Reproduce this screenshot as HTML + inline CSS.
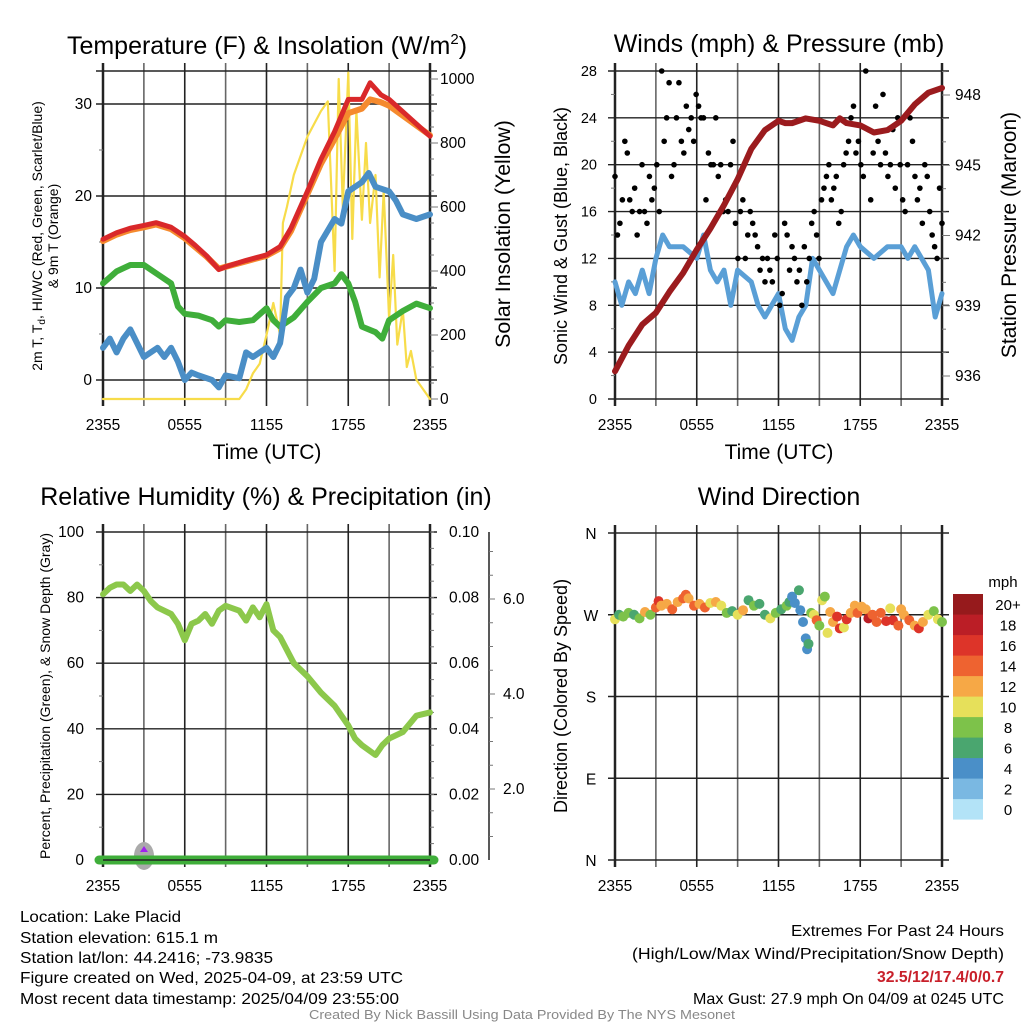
<!DOCTYPE html>
<html><head><meta charset="utf-8"><style>
html,body{margin:0;padding:0;background:#fff;}
svg{display:block;font-family:"Liberation Sans",sans-serif;}
.n{font-family:"Liberation Sans Narrow","Liberation Sans",sans-serif;}
</style></head><body>
<svg id="s" width="1024" height="1024" viewBox="0 0 1024 1024" xmlns="http://www.w3.org/2000/svg">
<g id="g"></g>
<text x="267" y="54" font-size="25" text-anchor="middle">Temperature (F) &amp; Insolation (W/m<tspan dy="-10" font-size="15">2</tspan><tspan dy="10">)</tspan></text>
<text x="779" y="52" font-size="25" text-anchor="middle">Winds (mph) &amp; Pressure (mb)</text>
<text x="266" y="505" font-size="25" text-anchor="middle">Relative Humidity (%) &amp; Precipitation (in)</text>
<text x="779" y="505" font-size="25" text-anchor="middle">Wind Direction</text>
<text x="267" y="459" font-size="21" text-anchor="middle">Time (UTC)</text>
<text x="779" y="459" font-size="21" text-anchor="middle">Time (UTC)</text>
<text transform="translate(42,236) rotate(-90)" font-size="14" text-anchor="middle">2m T, T<tspan dy="3" font-size="10">d</tspan><tspan dy="-3">, HI/WC (Red, Green, Scarlet/Blue)</tspan></text>
<text transform="translate(58,236) rotate(-90)" font-size="14" text-anchor="middle">&amp; 9m T (Orange)</text>
<text transform="translate(510,234) rotate(-90)" font-size="21.3" text-anchor="middle">Solar Insolation (Yellow)</text>
<text transform="translate(567,236) rotate(-90)" font-size="18" text-anchor="middle">Sonic Wind &amp; Gust (Blue, Black)</text>
<text transform="translate(1016,235) rotate(-90)" font-size="21" text-anchor="middle">Station Pressure (Maroon)</text>
<text transform="translate(50,696) rotate(-90)" font-size="14" text-anchor="middle">Percent, Precipitation (Green), &amp; Snow Depth (Gray)</text>
<text transform="translate(567,696) rotate(-90)" font-size="18" text-anchor="middle">Direction (Colored By Speed)</text>
<g class="n" font-size="16">
<text x="20" y="922" textLength="161" lengthAdjust="spacingAndGlyphs">Location: Lake Placid</text>
<text x="20" y="943" textLength="198" lengthAdjust="spacingAndGlyphs">Station elevation: 615.1 m</text>
<text x="20" y="963" textLength="253" lengthAdjust="spacingAndGlyphs">Station lat/lon: 44.2416; -73.9835</text>
<text x="20" y="983" textLength="383" lengthAdjust="spacingAndGlyphs">Figure created on Wed, 2025-04-09, at 23:59 UTC</text>
<text x="20" y="1004" textLength="379" lengthAdjust="spacingAndGlyphs">Most recent data timestamp: 2025/04/09 23:55:00</text>
</g>
<g class="n" font-size="16">
<text x="791" y="936" textLength="213" lengthAdjust="spacingAndGlyphs">Extremes For Past 24 Hours</text>
<text x="632" y="959" textLength="372" lengthAdjust="spacingAndGlyphs">(High/Low/Max Wind/Precipitation/Snow Depth)</text>
<text x="877" y="982" fill="#c8202a" font-weight="bold" textLength="127" lengthAdjust="spacingAndGlyphs">32.5/12/17.4/0/0.7</text>
<text x="693" y="1004" textLength="311" lengthAdjust="spacingAndGlyphs">Max Gust: 27.9 mph On 04/09 at 0245 UTC</text>
</g>
<text class="n" x="309" y="1019" font-size="12.5" fill="#888" textLength="426" lengthAdjust="spacingAndGlyphs">Created By Nick Bassill Using Data Provided By The NYS Mesonet</text>
</svg>
<script>
// ---- data (hours since 2355 UTC) ----
const xTickLabels = ["2355","0555","1155","1755","2355"];
const tHours = [0,1,2,3,3.9,5,6,6.8,7.6,8.5,9,10.5,12,13,13.8,15,16,17,18,19,19.6,20.4,21,22.5,24];
const tempRed = [15.3,16,16.5,16.8,17.1,16.6,15.6,14.6,13.5,12,12.3,13,13.6,14.5,16.5,20.5,24,27,30.5,30.5,32.3,31,30.5,28.5,26.5];
const temp9m = [15.1,15.8,16.3,16.6,16.9,16.4,15.4,14.4,13.4,12.1,12.3,12.9,13.5,14.3,16.2,20.2,23.5,26.2,29,29.5,30.5,30.2,29.8,28.2,26.6];
const dHours = [0,1,2,3,4,5,5.5,6,7,8,8.5,9,10,11,12,12.5,13,14,15,16,17,17.5,18,18.5,19,20,20.5,21,22,23,24];
const dewGreen = [10.5,11.8,12.5,12.5,11.5,10.5,8,7.2,7,6.5,5.8,6.5,6.3,6.5,7.8,6.5,5.8,6.8,8.5,10,10.5,11.5,10.5,8.5,5.8,5.2,4.5,6.5,7.5,8.3,7.8];
const wcHours = [0,0.5,1,1.5,2,2.5,3,4,4.5,5,5.5,6,6.5,7,8,8.5,9,10,10.5,11,12,12.5,13,13.5,14,14.5,15,15.5,16,17,17.5,18,19,19.5,20,21,21.5,22,23,24];
const windChill = [3.5,4.5,3,4.5,5.5,4,2.5,3.5,2.5,3.5,2,0,0.8,0.5,0,-0.8,0.5,0.2,3,2.5,3.5,2.5,4,9,10,12,9.5,11,15,17.5,17,20.5,21.5,22.5,21,20.5,19.5,18,17.5,18];
const solHours = [0,10,10.5,11,11.5,12,12.5,13,13.2,13.5,14,15,16,16.5,17,17.3,17.6,18,18.3,18.6,19,19.3,19.6,20,20.3,20.6,21,21.3,21.6,22,22.3,22.6,23,24];
const solar = [0,0,30,80,110,200,300,200,550,600,700,820,900,930,400,1000,600,1020,500,900,560,800,550,700,380,650,250,450,170,280,100,150,60,0];
const wHours = [0,0.5,1,1.5,2,2.5,3,3.5,4,5,6,6.5,7,7.5,8,8.5,9,10,10.5,11,11.5,12,12.5,13,13.5,14,14.5,15,15.5,16,17,17.5,18,19,20,21,21.5,22,23,23.5,24];
const sonicWind = [10,8,10,9,11,9,12,14,13,13,12,14,11,10,11,8,11,10,8,7,8,9,6,5,7,8,12,11,10,9,13,14,13,12,13,13,12,13,11,7,9];
const gusts = [19,14,15,17,22,21,17,16,18,14,16,20,16,15,19,17,18,20,16,28,22,24,27,19,20,24,27,22,21,25,23,24,22,26,25,24,24,17,21,20,20,24,19,20,16,17,16,20,22,15,12,16,17,12,14,16,15,14,13,11,12,10,12,11,10,14,12,8,9,15,14,11,13,12,10,11,8,13,10,12,15,16,14,12,17,18,19,20,17,18,19,15,16,20,21,22,24,25,21,22,20,19,28,23,17,21,25,22,20,26,21,19,20,23,18,24,20,17,16,20,24,22,19,17,18,15,20,19,16,14,13,12,18,15];
const pHours = [0,1,2,3,4,5,6,7,8,9,10,11,12,12.5,13,14,15,16,16.5,17,18,19,20,21,22,23,24];
const pressure = [936.2,937.3,938.2,938.7,939.6,940.4,941.4,942.3,943.3,944.4,945.7,946.5,946.9,946.8,946.8,947.0,946.9,946.7,947.0,946.8,946.7,946.4,946.5,946.9,947.6,948.1,948.3];
const rhHours = [0,0.5,1,1.5,2,2.5,3,3.5,4,5,5.5,6,6.5,7,7.5,8,8.5,9,10,10.5,11,11.5,12,12.5,13,14,15,16,17,18,18.5,19,20,20.5,21,22,23,24];
const rh = [81,83,84,84,82,84,82,79,77,75,72,67,72,73,75,72,76,77.5,76,73,77,74,78,70,68,60,56,51,47,41,37,35,32,35,37,39,44,45];
const dirHours = [0,0.3,0.6,1,1.4,1.8,2.2,2.6,3,3.2,3.4,3.8,4.2,4.6,5,5.2,5.4,5.8,6.2,6.6,7,7.4,7.8,8.2,8.6,9,9.4,9.8,10.2,10.6,11,11.4,11.8,12.2,12.6,12.8,13,13.2,13.5,13.6,13.8,14,14.1,14.2,14.4,14.6,14.8,15,15.2,15.4,15.6,15.8,16,16.3,16.5,16.8,17,17.3,17.6,17.8,18.1,18.4,18.6,18.9,19.2,19.5,19.9,20.2,20.4,20.8,21,21.2,21.6,22,22.3,22.6,23,23.4,23.7,24];
const dirDeg = [265,270,268,272,270,266,273,270,278,285,280,282,276,284,288,292,288,280,282,278,283,284,280,272,274,270,275,286,280,282,270,266,272,276,280,284,290,283,297,275,262,244,232,238,272,270,264,258,286,290,250,273,262,268,255,256,265,272,280,272,279,276,266,270,262,272,263,277,264,258,276,270,264,258,255,262,270,274,265,262];
const dirSpeed = [10,7,9,8,7,8,12,9,15,16,13,12,14,12,14,15,12,14,12,14,10,12,10,8,7,10,12,7,8,6,7,10,8,7,8,7,4,5,6,4,4,4,4,6,8,10,14,8,10,8,10,12,13,17,16,10,17,12,13,15,12,12,18,14,14,15,16,10,17,14,12,13,15,12,16,13,10,8,10,9];
const speedLabels = ["0","2","4","6","8","10","12","14","16","18","20+"];
const speedColors = ["#b3e3f7","#7ab8e2","#4a8fc8","#4aa66f","#7dc24a","#e6e05a","#f6a846","#ee6330","#dd3429","#bb1e26","#961a1c"];

const NS="http://www.w3.org/2000/svg";
const G=document.getElementById('g');
function el(tag,attrs,parent){const e=document.createElementNS(NS,tag);for(const k in attrs)e.setAttribute(k,attrs[k]);(parent||G).appendChild(e);return e;}
function txt(x,y,s,size,anchor){const t=el('text',{x:x,y:y,'font-size':size,'text-anchor':anchor||'middle'});t.textContent=s;return t;}
const X0L=103,X0R=615,PW=327;
const xs=(x0)=>h=>x0+h*PW/24;
function lin(d0,d1,p0,p1){return v=>p0+(v-d0)*(p1-p0)/(d1-d0);}
function line(hs,vs,sx,sy,color,w,name){
  const d=hs.map((h,i)=>(i?'L':'M')+sx(h).toFixed(1)+','+sy(vs[i]).toFixed(1)).join('');
  const p=el('path',{d:d,fill:'none',stroke:color,'stroke-width':w,'stroke-linejoin':'round','stroke-linecap':'round'});
  
  
  return p;
}
function vgrid(x0,top,bot,labels){
  for(let i=0;i<=8;i++){const x=x0+i*PW/8;
    const l=el('line',{x1:x,y1:top-8,x2:x,y2:bot+7,stroke:(i%2?'#666':'#222'),'stroke-width':(i==0||i==8)?2.5:1.6});
    
    
  }
  labels.forEach((s,i)=>{const t=txt(x0+i*PW/4,bot+31,s,15.5);
    
    });
}
function hline(x0,y,w,name){const l=el('line',{x1:x0-7,y1:y,x2:x0+PW+7,y2:y,stroke:'#222','stroke-width':1.4});
  
  }
function mtick(x,y,len){el('line',{x1:x,y1:y,x2:x+len,y2:y,stroke:'#777','stroke-width':1});}

// ---------- Panel 1 ----------
(function(){
  const sx=xs(X0L), sy=lin(0,30,380,104), ss=lin(0,1000,399,79), top=71,bot=399;
  vgrid(X0L,top,bot,xTickLabels);
  hline(X0L,top,0,'frame-top');
  [0,10,20,30].forEach(v=>{hline(X0L,sy(v),0,'y-gridline');const t=txt(92,sy(v)+5,String(v),15.5,'end');
    
    });
  [5,15,25].forEach(v=>mtick(X0L-4,sy(v),4));
  for(let v=0;v<=1000;v+=50){mtick(X0L+PW,ss(v),v%200?4:8);}
  [0,200,400,600,800,1000].forEach(v=>{const t=txt(440,ss(v)+5,String(v),15.5,'start');
    
    });
  line(solHours,solar,sx,ss,'#f7dc4a',2.2,'insolation-line');
  line(dHours,dewGreen,sx,sy,'#3fae3a',6,'dewpoint-line');
  line(wcHours,windChill,sx,sy,'#4a8ec6',6,'windchill-line');
  line(tHours,temp9m,sx,sy,'#f58a2e',6,'temp-9m-line');
  line(tHours,tempRed,sx,sy,'#d9282a',5,'temp-2m-line');
})();

// ---------- Panel 2 ----------
(function(){
  const sx=xs(X0R), sy=lin(0,28,399,71), sp=lin(936,948,376,95), top=71,bot=399;
  vgrid(X0R,top,bot,xTickLabels);
  [0,4,8,12,16,20,24,28].forEach(v=>{hline(X0R,sy(v),0,'y-gridline');const t=txt(597,sy(v)+5,String(v),14.5,'end');
    
    });
  [2,6,10,14,18,22,26].forEach(v=>mtick(X0R-4,sy(v),4));
  for(let v=935;v<=949;v+=1){const y=sp(v);if(y>=71&&y<=399)mtick(X0R+PW,y,v%3==0?8:4);}
  [936,939,942,945,948].forEach(v=>{const t=txt(955,sp(v)+5,String(v),15.5,'start');
    
    });
  line(wHours,sonicWind,sx,sy,'#5a9fd6',5,'sonic-wind-line');
  gusts.forEach((g,i)=>{const c=el('circle',{cx:sx(i*24/(gusts.length-1)),cy:sy(g),r:2.8,fill:'#000'});
    
    });
  line(pHours,pressure,sx,sp,'#9b1b1e',6,'pressure-line');
})();

// ---------- Panel 3 ----------
(function(){
  const sx=xs(X0L), sy=lin(0,100,860,532), sr=lin(0,0.1,860,532), top=532,bot=860;
  vgrid(X0L,top,bot,xTickLabels);
  [0,20,40,60,80,100].forEach(v=>{hline(X0L,sy(v),0,'y-gridline');const t=txt(84,sy(v)+5,String(v),15.5,'end');
    
    });
  [10,30,50,70,90].forEach(v=>mtick(X0L-4,sy(v),4));
  for(let v=0;v<=0.1001;v+=0.005){mtick(X0L+PW,sr(v),4);}
  ["0.00","0.02","0.04","0.06","0.08","0.10"].forEach(s=>{const t=txt(449,sr(+s)+5,s,15.5,'start');
    
    });
  el('line',{x1:489,y1:532,x2:489,y2:860,stroke:'#222','stroke-width':1.5});
  const sd=lin(0,6,884,599);
  for(let v=0.5;v<=7;v+=0.5){const y=sd(v);if(y>=532&&y<=860)mtick(489,y,v%2==0?6:4);}
  ["2.0","4.0","6.0"].forEach(s=>{const t=txt(503,sd(+s)+5,s,15.5,'start');
    
    });
  const bump=el('ellipse',{cx:144,cy:856,rx:10,ry:14,fill:'#aaa'});
  
  
  el('path',{d:'M140,852 L144,846 L148,852 Z',fill:'#a020f0'});
  const pr=el('line',{x1:99,y1:860,x2:434,y2:860,stroke:'#3fae3a','stroke-width':9,'stroke-linecap':'round'});
  
  
  el('line',{x1:103,y1:860,x2:430,y2:860,stroke:'#222','stroke-width':1.5});
  line(rhHours,rh,sx,sy,'#8cc84b',6,'rh-line');
})();

// ---------- Panel 4 ----------
(function(){
  const sx=xs(X0R), sy=lin(0,360,860,533), top=533,bot=860;
  vgrid(X0R,top,bot,xTickLabels);
  ["N","E","S","W","N"].forEach((s,i)=>{const y=sy(i*90);hline(X0R,y,0,'y-gridline');const t=txt(591,y+6,s,15.5,'middle');
    
    });
  dirHours.forEach((h,i)=>{const k=Math.min(10,Math.floor(dirSpeed[i]/2));
    const c=el('circle',{cx:sx(h),cy:sy(dirDeg[i]),r:5,fill:speedColors[k]});
    
    });
  const t=txt(1003,587,'mph',15,'middle');
  
  
  speedColors.forEach((c,i)=>{const y=594+(10-i)*20.5;
    const r=el('rect',{x:953,y:y,width:30,height:20.6,fill:c});
    
    
    const l=txt(1008,y+16,speedLabels[i],15,'middle');
    
    });
})();
</script>
</body></html>
